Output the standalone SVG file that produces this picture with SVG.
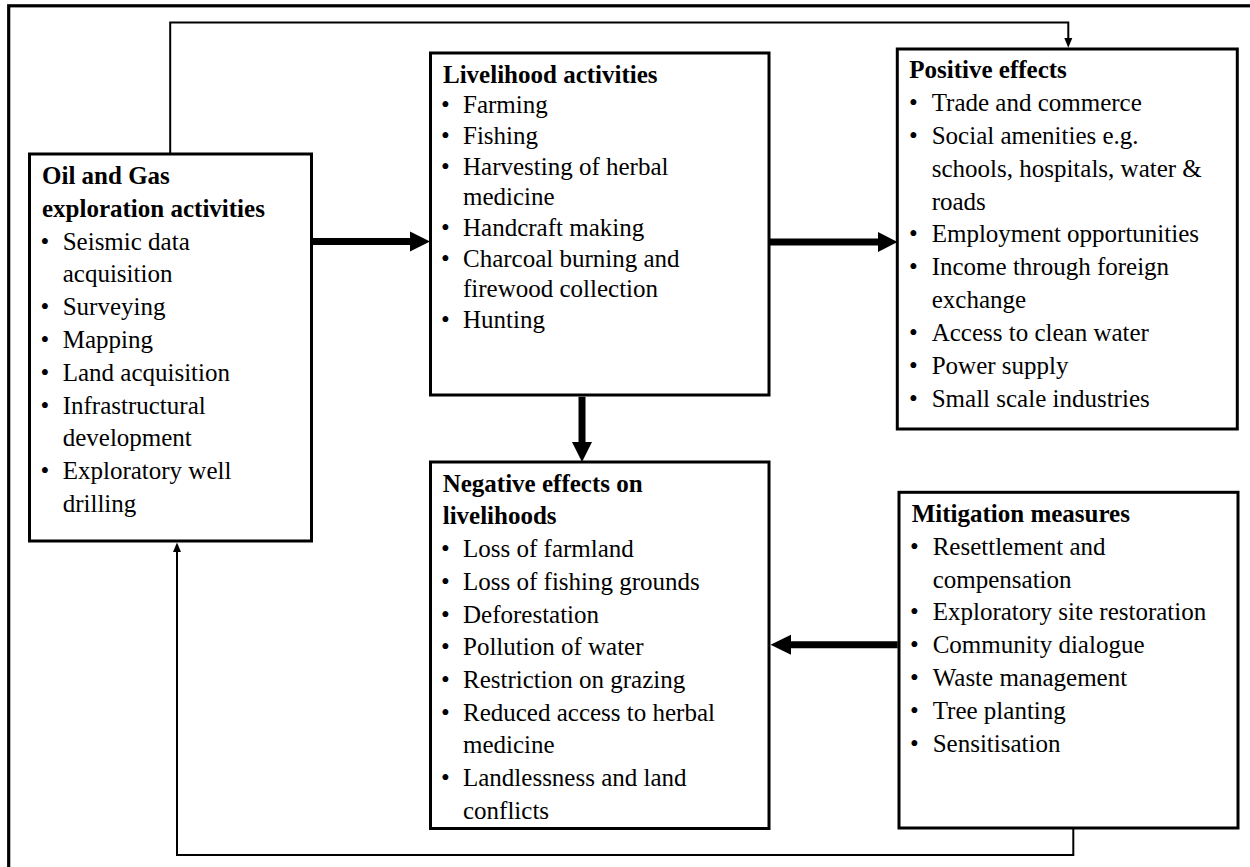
<svg xmlns="http://www.w3.org/2000/svg" width="1250" height="867" viewBox="0 0 1250 867">
<style>
.box{fill:#fff;stroke:#000;stroke-width:3}
.frame{fill:none;stroke:#000;stroke-width:3.2}
text{font-family:"Liberation Serif","Times New Roman",serif;font-size:25px;fill:#000}
.t{font-weight:bold}
.thick{stroke:#000;stroke-width:7;fill:none}
.thin{stroke:#000;stroke-width:2;fill:none}
.head{fill:#000;stroke:none}
</style>
<rect width="1250" height="867" fill="#fff"/>
<rect class="frame" x="8.7" y="5.8" width="1270" height="890"/>
<g id="connectors">
  <line class="thick" x1="312.7" y1="241.5" x2="411" y2="241.5"/>
  <polygon class="head" points="410,231.5 430,241.5 410,251.5"/>
  <line class="thick" x1="770" y1="242" x2="879" y2="242"/>
  <polygon class="head" points="878,232 897.5,242 878,252"/>
  <line class="thick" x1="582" y1="396.7" x2="582" y2="443"/>
  <polygon class="head" points="572,442 582,462 592,442"/>
  <line class="thick" x1="897.7" y1="644.8" x2="790" y2="644.8"/>
  <polygon class="head" points="791,634.8 770.5,644.8 791,654.8"/>
  <path class="thin" d="M170.2,154 V22.5 H1068.3 V39"/>
  <polygon class="head" points="1064.3,38 1068.3,47.8 1072.3,38"/>
  <path class="thin" d="M1073.3,829 V855 H177 V552"/>
  <polygon class="head" points="173,552 177,542.5 181,552"/>
</g>
<g id="oil">
  <rect class="box" x="29.5" y="154" width="282" height="387"/>
  <text class="t" x="42" y="184">Oil and Gas</text>
  <text class="t" x="42" y="216.8">exploration activities</text>
  <text x="40.5" y="249.6">•</text><text x="62.7" y="249.6">Seismic data</text>
  <text x="62.7" y="282.4">acquisition</text>
  <text x="40.5" y="315.2">•</text><text x="62.7" y="315.2">Surveying</text>
  <text x="40.5" y="348">•</text><text x="62.7" y="348">Mapping</text>
  <text x="40.5" y="380.8">•</text><text x="62.7" y="380.8">Land acquisition</text>
  <text x="40.5" y="413.6">•</text><text x="62.7" y="413.6">Infrastructural</text>
  <text x="62.7" y="446.4">development</text>
  <text x="40.5" y="479.2">•</text><text x="62.7" y="479.2">Exploratory well</text>
  <text x="62.7" y="512">drilling</text>
</g>
<g id="livelihood">
  <rect class="box" x="430.5" y="53" width="338.5" height="342"/>
  <text class="t" x="443" y="82.5">Livelihood activities</text>
  <text x="441" y="113.2">•</text><text x="463" y="113.2">Farming</text>
  <text x="441" y="143.9">•</text><text x="463" y="143.9">Fishing</text>
  <text x="441" y="174.6">•</text><text x="463" y="174.6">Harvesting of herbal</text>
  <text x="463" y="205.3">medicine</text>
  <text x="441" y="236">•</text><text x="463" y="236">Handcraft making</text>
  <text x="441" y="266.7">•</text><text x="463" y="266.7">Charcoal burning and</text>
  <text x="463" y="297.4">firewood collection</text>
  <text x="441" y="328.1">•</text><text x="463" y="328.1">Hunting</text>
</g>
<g id="positive">
  <rect class="box" x="897.3" y="49" width="340" height="380"/>
  <text class="t" x="909.3" y="78">Positive effects</text>
  <text x="909" y="110.9">•</text><text x="931.7" y="110.9">Trade and commerce</text>
  <text x="909" y="143.7">•</text><text x="931.7" y="143.7">Social amenities e.g.</text>
  <text x="931.7" y="176.6">schools, hospitals, water &amp;</text>
  <text x="931.7" y="209.5">roads</text>
  <text x="909" y="242.4">•</text><text x="931.7" y="242.4">Employment opportunities</text>
  <text x="909" y="275.2">•</text><text x="931.7" y="275.2">Income through foreign</text>
  <text x="931.7" y="308.1">exchange</text>
  <text x="909" y="341">•</text><text x="931.7" y="341">Access to clean water</text>
  <text x="909" y="373.8">•</text><text x="931.7" y="373.8">Power supply</text>
  <text x="909" y="406.7">•</text><text x="931.7" y="406.7">Small scale industries</text>
</g>
<g id="negative">
  <rect class="box" x="430.5" y="462" width="338.5" height="366.5"/>
  <text class="t" x="442.7" y="491.7">Negative effects on</text>
  <text class="t" x="442.7" y="524.4">livelihoods</text>
  <text x="441" y="557.1">•</text><text x="463" y="557.1">Loss of farmland</text>
  <text x="441" y="589.8">•</text><text x="463" y="589.8">Loss of fishing grounds</text>
  <text x="441" y="622.5">•</text><text x="463" y="622.5">Deforestation</text>
  <text x="441" y="655.2">•</text><text x="463" y="655.2">Pollution of water</text>
  <text x="441" y="687.9">•</text><text x="463" y="687.9">Restriction on grazing</text>
  <text x="441" y="720.6">•</text><text x="463" y="720.6">Reduced access to herbal</text>
  <text x="463" y="753.3">medicine</text>
  <text x="441" y="786">•</text><text x="463" y="786">Landlessness and land</text>
  <text x="463" y="818.7">conflicts</text>
</g>
<g id="mitigation">
  <rect class="box" x="899" y="492.3" width="339" height="335.7"/>
  <text class="t" x="911.7" y="521.7">Mitigation measures</text>
  <text x="910" y="554.6">•</text><text x="932.7" y="554.6">Resettlement and</text>
  <text x="932.7" y="587.5">compensation</text>
  <text x="910" y="620.4">•</text><text x="932.7" y="620.4">Exploratory site restoration</text>
  <text x="910" y="653.3">•</text><text x="932.7" y="653.3">Community dialogue</text>
  <text x="910" y="686.2">•</text><text x="932.7" y="686.2">Waste management</text>
  <text x="910" y="719.1">•</text><text x="932.7" y="719.1">Tree planting</text>
  <text x="910" y="752">•</text><text x="932.7" y="752">Sensitisation</text>
</g>
</svg>
